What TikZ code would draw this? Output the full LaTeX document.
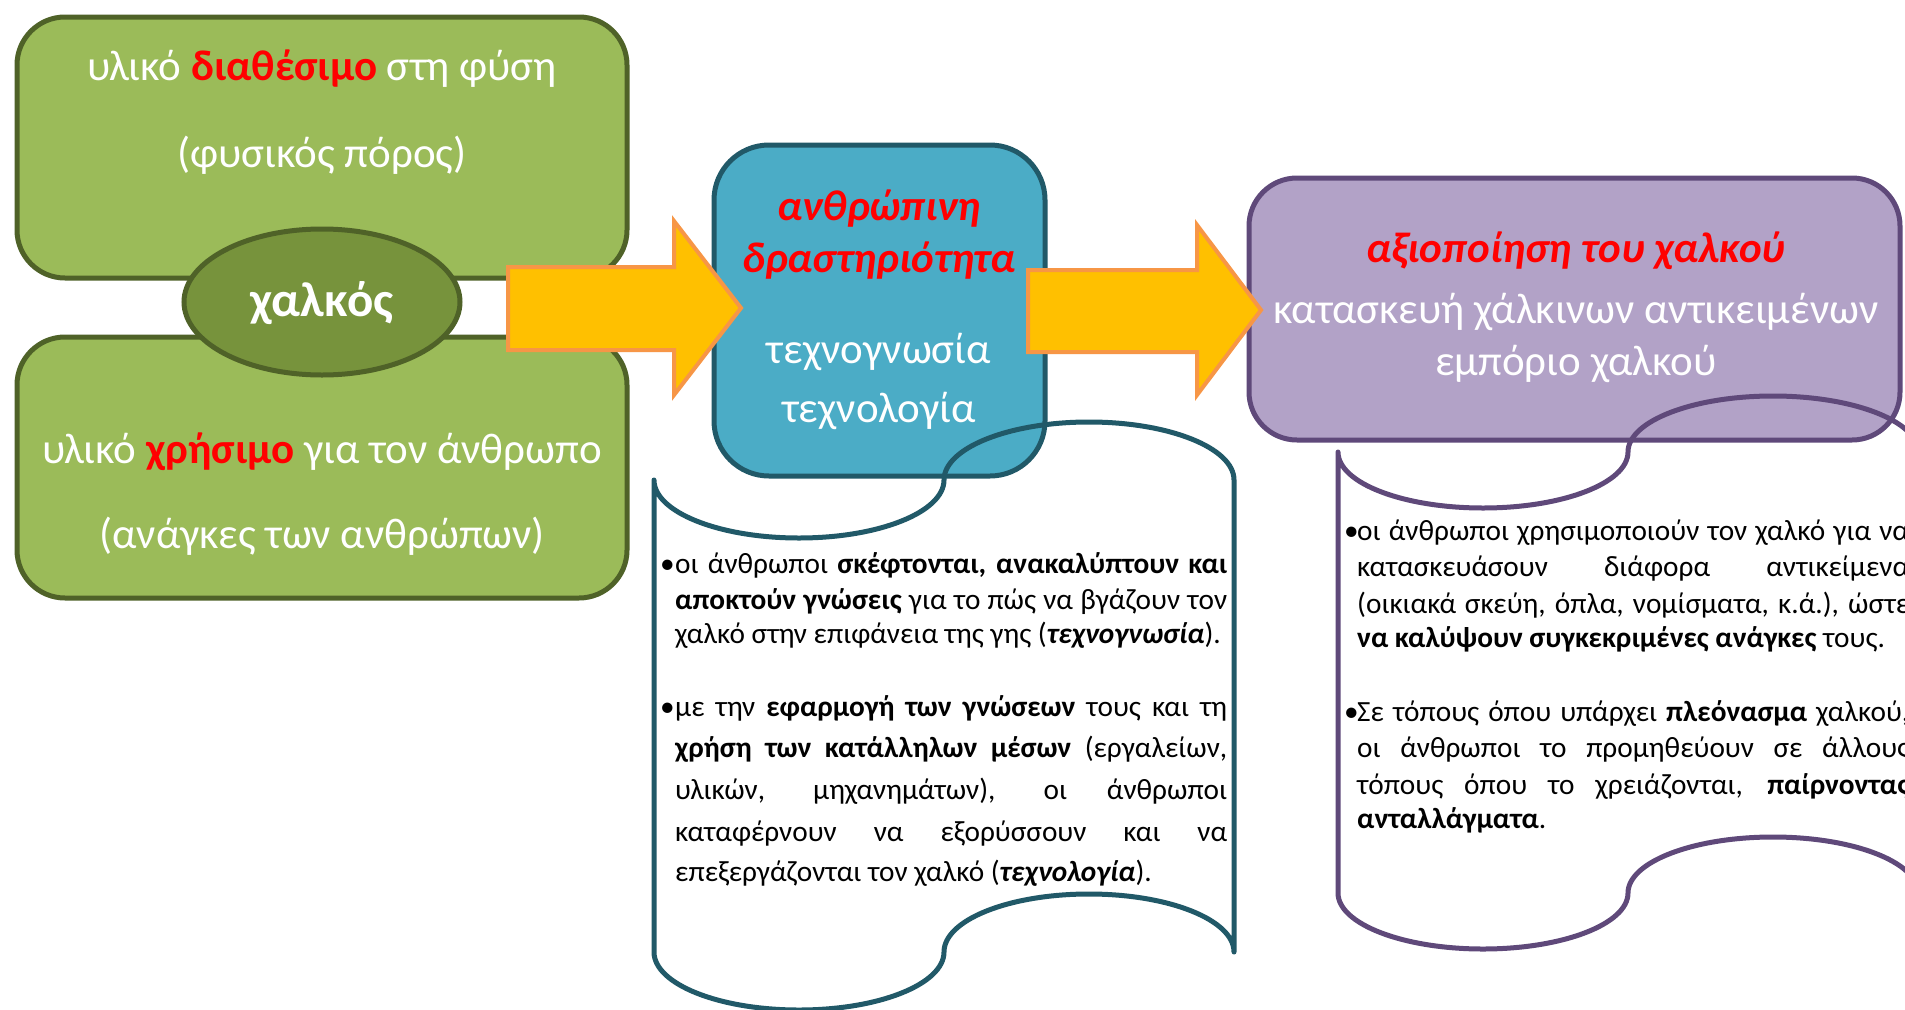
\documentclass[tikz,border=0pt]{standalone}
\usepackage{fontspec}
\setmainfont{Carlito}
\usetikzlibrary{shapes.geometric}
\definecolor{grfill}{HTML}{9BBB59}
\definecolor{grline}{HTML}{4F6228}
\definecolor{elfill}{HTML}{77933C}
\definecolor{blfill}{HTML}{4BACC6}
\definecolor{blline}{HTML}{215968}
\definecolor{pufill}{HTML}{B2A2C7}
\definecolor{puline}{HTML}{5F497A}
\definecolor{arfill}{HTML}{FFC000}
\definecolor{arline}{HTML}{F79646}
\definecolor{redtxt}{HTML}{FF0000}
\newcommand\jl[1]{\makebox[552pt][s]{#1}}
\newcommand\rb[1]{\textcolor{redtxt}{\textbf{#1}}}
\begin{document}
\begin{tikzpicture}[x=1pt,y=-1pt,
  box/.style={draw, line width=5pt, inner sep=0pt},
  big/.style={font=\fontsize{43}{50}\selectfont, inner sep=0pt, anchor=base, text=white},
  title/.style={font=\fontsize{43}{50}\selectfont\bfseries\itshape, inner sep=0pt, anchor=base, text=redtxt},
  small/.style={font=\fontsize{29.3}{34}\selectfont, inner sep=0pt, anchor=base west},
  blockarrow/.style={fill=arfill, draw=arline, line width=4pt, line join=miter},
  tape/.style={line width=5pt, line join=round}
]
\useasboundingbox (0,0) rectangle (1905,1009);
\clip (0,0) rectangle (1905,1009);
\fill[white] (0,0) rectangle (1905,1009);

% green boxes
\node[box, fill=grfill, draw=grline, rounded corners=48pt, minimum width=610pt, minimum height=261pt] (top) at (322,147.5) {};
\node[box, fill=grfill, draw=grline, rounded corners=48pt, minimum width=610pt, minimum height=261pt] (bot) at (322,467.5) {};
\node[ellipse, box, fill=elfill, draw=grline, minimum width=276pt, minimum height=146pt] (cu) at (322,302) {};

% blue and purple boxes
\node[box, fill=blfill, draw=blline, rounded corners=55pt, minimum width=331pt, minimum height=331pt] (act) at (879.5,310.5) {};
\node[box, fill=pufill, draw=puline, rounded corners=48pt, minimum width=651pt, minimum height=262pt] (use) at (1574.5,309) {};

% punched tapes
\draw[tape, draw=blline] (654,480)
  arc[start angle=180, end angle=0, x radius=145, y radius=58]
  arc[start angle=180, end angle=360, x radius=145, y radius=58]
  -- (1234,952)
  arc[start angle=0, end angle=-180, x radius=145, y radius=58]
  arc[start angle=0, end angle=180, x radius=145, y radius=58]
  -- cycle;
\draw[tape, draw=puline] (1338,452)
  arc[start angle=180, end angle=0, x radius=145, y radius=56]
  arc[start angle=180, end angle=360, x radius=145, y radius=56]
  -- (1918,893)
  arc[start angle=0, end angle=-180, x radius=145, y radius=56]
  arc[start angle=0, end angle=180, x radius=145, y radius=56]
  -- cycle;

% block arrows
\draw[blockarrow] (508,267) -- (674,267) -- (674,221) -- (741,308) -- (674,395) -- (674,350) -- (508,350) -- cycle;
\draw[blockarrow] (1028,270) -- (1197,270) -- (1197,225) -- (1261,310) -- (1197,395) -- (1197,352) -- (1028,352) -- cycle;

% texts green
\node[big] (t1) at (322,80.5) {υλικό \rb{διαθέσιμο} στη φύση};
\node[big] (t2) at (322,167.5) {(φυσικός πόρος)};
\node[big] (t3) at (322,463.5) {υλικό \rb{χρήσιμο} για τον άνθρωπο};
\node[big] (t4) at (322,548.5) {(ανάγκες των ανθρώπων)};
\node[big, font=\fontsize{49}{56}\selectfont\bfseries] (t5) at (322,316) {χαλκός};

% texts blue
\node[title] (b1) at (879,220.5) {ανθρώπινη};
\node[title] (b2) at (879,272.5) {δραστηριότητα};
\node[big] (b3) at (879,363.5) {τεχνογνωσία};
\node[big] (b4) at (879,422.5) {τεχνολογία};

% texts purple
\node[title] (p1) at (1576,262.5) {αξιοποίηση του χαλκού};
\node[big] (p2) at (1576,323.5) {κατασκευή χάλκινων αντικειμένων};
\node[big] (p3) at (1576,375.5) {εμπόριο χαλκού};

% tape 1 text
\node[small] (l0) at (660,573) {•};
\node[small] (l1) at (675,573) {\jl{οι άνθρωποι \textbf{σκέφτονται, ανακαλύπτουν και}}};
\node[small] (l2) at (675,609) {\jl{\textbf{αποκτούν γνώσεις} για το πώς να βγάζουν τον}};
\node[small] (l3) at (675,643) {χαλκό στην επιφάνεια της γης (\textbf{\textit{τεχνογνωσία}}).};
\node[small] (m0) at (660,716) {•};
\node[small] (m1) at (675,716) {\jl{με την \textbf{εφαρμογή των γνώσεων} τους και τη}};
\node[small] (m2) at (675,757) {\jl{\textbf{χρήση των κατάλληλων μέσων} (εργαλείων,}};
\node[small] (m3) at (675,799) {\jl{υλικών, μηχανημάτων), οι άνθρωποι}};
\node[small] (m4) at (675,841) {\jl{καταφέρνουν να εξορύσσουν και να}};
\node[small] (m5) at (675,881) {επεξεργάζονται τον χαλκό (\textbf{\textit{τεχνολογία}}).};

% tape 2 text
\node[small] (n0) at (1344,540) {•};
\node[small] (n1) at (1357,540) {\jl{οι άνθρωποι χρησιμοποιούν τον χαλκό για να}};
\node[small] (n2) at (1357,576) {\jl{κατασκευάσουν διάφορα αντικείμενα}};
\node[small] (n3) at (1357,613) {\jl{(οικιακά σκεύη, όπλα, νομίσματα, κ.ά.), ώστε}};
\node[small] (n4) at (1357,647) {\textbf{να καλύψουν συγκεκριμένες ανάγκες} τους.};
\node[small] (o0) at (1344,721) {•};
\node[small] (o1) at (1357,721) {\jl{Σε τόπους όπου υπάρχει \textbf{πλεόνασμα} χαλκού,}};
\node[small] (o2) at (1357,757) {\jl{οι άνθρωποι το προμηθεύουν σε άλλους}};
\node[small] (o3) at (1357,794) {\jl{τόπους όπου το χρειάζονται, \textbf{παίρνοντας}}};
\node[small] (o4) at (1357,828) {\textbf{ανταλλάγματα}.};
\end{tikzpicture}
\end{document}
